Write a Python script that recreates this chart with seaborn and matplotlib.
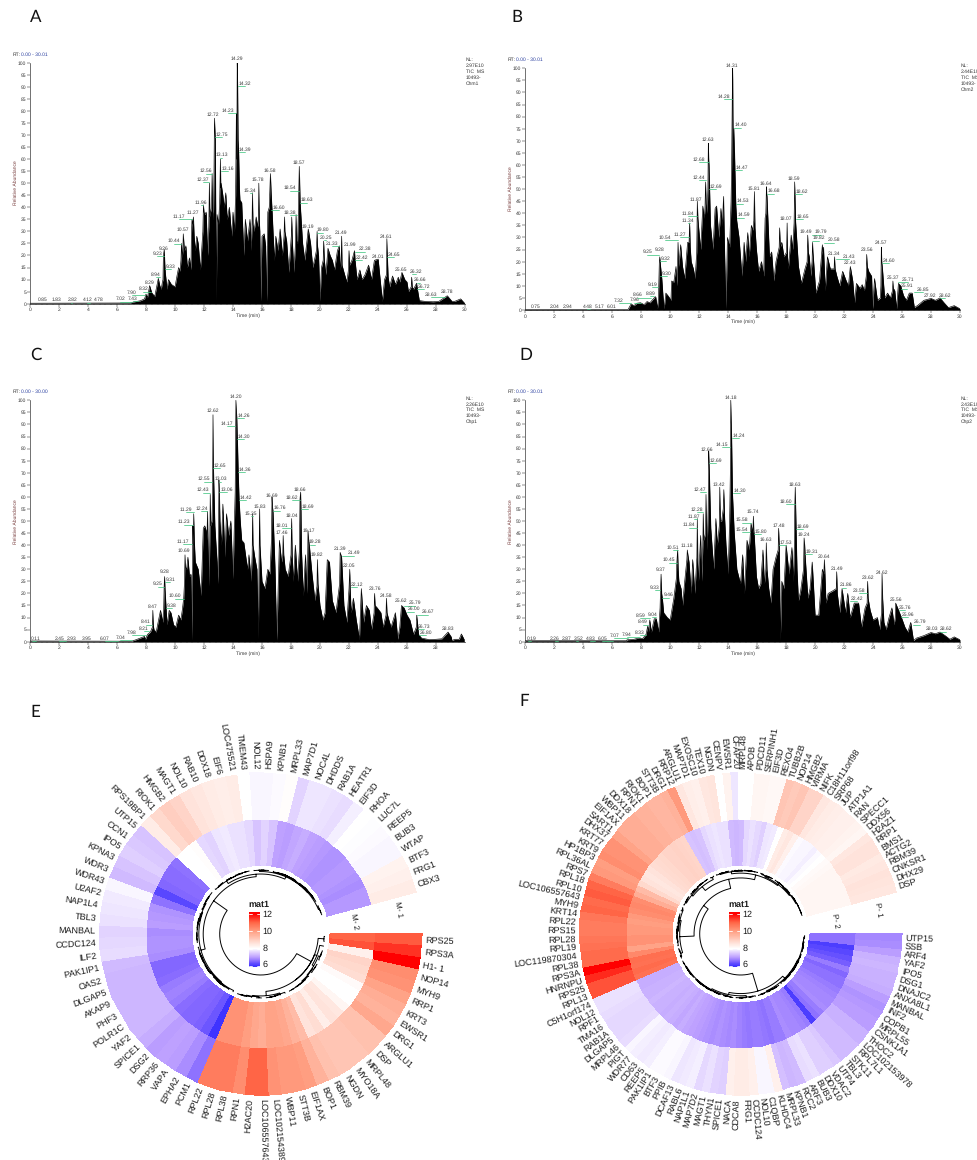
import numpy as np
import pandas as pd
import matplotlib
matplotlib.use("Agg")
import matplotlib.pyplot as plt
import seaborn as sns
from matplotlib.colors import LinearSegmentedColormap
from matplotlib.ticker import MultipleLocator

# chromatogram traces, time in min and relative abundance in %
A_time = [0,6.9,7.2,7.6,7.9,8.0,8.1,8.25,8.4,8.6,8.85,8.95,9.05,9.13,9.2,9.26,9.33,9.45,9.55,9.75,10.0,10.15,10.25,10.35,10.45,10.5,10.57,10.65,10.75,10.85,11.0,11.1,11.17,11.27,11.4,11.5,11.6,11.75,11.96,12.05,12.15,12.25,12.37,12.45,12.56,12.65,12.72,12.78,12.85,12.9,13.0,13.13,13.18,13.3,13.4,13.5,13.6,13.75,13.9,14.0,14.1,14.23,14.29,14.32,14.39,14.48,14.6,14.75,14.85,15.0,15.17,15.25,15.34,15.45,15.6,15.7,15.78,15.85,15.9,16.0,16.15,16.25,16.32,16.4,16.58,16.7,16.85,16.95,17.1,17.25,17.4,17.55,17.7,17.85,18.05,18.2,18.35,18.45,18.54,18.57,18.63,18.8,18.95,19.19,19.35,19.5,19.65,19.8,19.9,20.0,20.1,20.25,20.4,20.55,20.7,20.85,21.0,21.2,21.33,21.4,21.49,21.7,21.85,22.0,22.2,22.38,22.42,22.55,22.75,22.9,23.1,23.35,23.55,23.75,24.01,24.15,24.3,24.45,24.61,24.65,24.8,25.0,25.2,25.4,25.5,25.65,25.85,26.0,26.1,26.32,26.45,26.66,26.72,26.85,27.2,27.8,28.2,28.78,29.1,29.3,29.7,30]
A_abund = [0.2,0.3,0.8,1.2,2,4,2.5,7.5,4.5,3,10.5,7.5,6,9,20,22.5,13,6,10,8,7,12,15,13.5,25,19,29,22,24,15,19,14,35,36,22,28,25,14,41,37,38,20,50,38,54,35,77,68,1,37,33,60,50,45,40,46,35,40,28,38,30,79,100,90,63,43,42,20,35,26,35,22,46,30,36,32,50,30,1,28,29,24,1,38,54,38,18,28,22,31,20,36,26,13,36,13,37,25,47,57,42,25,18,31,25,15,19,30,20,1,15,26,12,23,20,18,14,22,24,14,28,12,9,22,18,22,18,10,14,10,12,16,10,18,18.5,10,1,10,27,19,7,11.5,8,11,9,13,10,9,5,11,6,8.5,6,1.3,1,0.8,1,3.3,1,1,2,0]
A_shoulder_time = [9.17,9.3,10.41,10.54,11.13,11.22,11.32,11.92,12.0,12.33,12.41,12.52,12.6,12.69,13.08,13.16,14.18,14.26,14.35,14.44,15.31,15.38,15.75,15.81,16.5,16.63,17.52,17.58,18.02,18.09,18.3,18.39,18.5,18.6,19.75,19.83,20.22,20.3,21.46,21.52,21.96,22.05,24.58,24.7,26.29,26.36]
A_shoulder_abund = [10,16,18,22,28,33,28,30,38,32,36,40,38,55,42,48,45,60,68,48,32,33,34,35,40,46,28,30,28,26,24,26,36,50,22,24,18,18,18,16,14,16,12,11,7,7]

B_time = [0,7.0,7.1,7.3,7.5,7.7,7.96,8.2,8.4,8.6,8.89,9.0,9.12,9.19,9.25,9.28,9.32,9.42,9.5,9.58,9.7,9.9,10.05,10.1,10.25,10.4,10.45,10.54,10.6,10.72,10.85,11.0,11.2,11.34,11.45,11.6,11.72,11.87,11.95,12.1,12.25,12.35,12.44,12.55,12.63,12.68,12.78,12.95,13.1,13.2,13.35,13.5,13.6,13.68,13.75,13.85,13.95,14.1,14.2,14.28,14.31,14.36,14.40,14.47,14.53,14.59,14.75,14.95,15.1,15.2,15.35,15.45,15.6,15.7,15.81,15.95,16.1,16.3,16.45,16.55,16.64,16.68,16.85,17.0,17.15,17.3,17.55,17.7,17.85,18.07,18.15,18.35,18.45,18.59,18.65,18.85,19.05,19.3,19.49,19.6,19.7,19.82,19.9,20.05,20.3,20.5,20.58,20.7,20.85,21.05,21.34,21.5,21.7,21.9,22.15,22.3,22.43,22.6,22.72,22.85,23.1,23.25,23.4,23.56,23.7,23.9,23.97,24.1,24.3,24.5,24.57,24.65,24.8,25.0,25.2,25.37,25.5,25.62,25.75,25.91,26.1,26.3,26.5,26.7,26.85,27.1,27.5,28,28.3,28.62,28.9,29.2,29.6,30]
B_abund = [0.2,0.2,0.3,2.5,1.8,2.8,3,2.2,3.5,3,5,5.5,0.5,5,20,22,19,13,6,0.5,7,5.5,4,12,11.5,18,10,28,18,27,18,13,28,36,20,17,13,45,35,25,43,38,53,40,69,60,35,25,42,43,30,42,35,47,25,0.5,30,26,45,87,100,62,75,57,43,37,30,14,28,20,32,22,35,33,49,25,16,20,14,38,51,47,22,24,12,20,34,28,22,36,17,31,25,53,37,18,11,17,31,22,14,28,20,7,12,27,26,8,22,17,22,14,10,16,12,10,18,12,3,11,9,10.5,8,23,16,14,0.5,13,4,5,26,17,5,7,5,12,8,0.5,11,10,6,4,7,7,1,2,4,4.8,4,5,3,1,1.8,0.5]
B_shoulder_time = [9.22,10.5,10.58,11.3,11.38,11.83,11.91,12.4,12.48,12.6,12.66,14.24,14.33,14.44,15.77,15.85,16.6,16.66,17.52,17.6,18.03,18.1,18.55,18.62,19.45,19.53,19.79,19.85,20.54,21.31,21.38,23.53,23.6,24.54,24.6,25.34,25.4]
B_shoulder_abund = [12,16,20,28,26,24,38,42,44,50,62,60,80,65,37,34,40,48,26,26,24,22,36,45,20,24,20,24,24,17,17,14,18,10,20,8,9]

C_time = [0,7.0,7.3,7.6,7.9,7.95,8.1,8.3,8.47,8.55,8.7,9.0,9.15,9.25,9.28,9.31,9.45,9.6,9.72,9.9,10.05,10.25,10.4,10.5,10.6,10.69,10.8,10.89,11.0,11.1,11.17,11.23,11.29,11.4,11.6,11.8,11.95,12.05,12.15,12.24,12.35,12.43,12.55,12.62,12.65,12.75,12.9,12.95,13.03,13.06,13.2,13.3,13.45,13.55,13.7,13.85,14.0,14.10,14.20,14.26,14.30,14.36,14.42,14.6,14.75,15.0,15.1,15.25,15.35,15.5,15.65,15.75,15.83,16.0,16.2,16.4,16.55,16.69,16.76,16.9,17.02,17.2,17.35,17.46,17.6,17.8,18.04,18.15,18.3,18.45,18.62,18.66,18.69,18.85,19.0,19.1,19.17,19.28,19.45,19.65,19.82,20.0,20.2,20.35,20.5,20.65,20.85,21.1,21.39,21.49,21.65,21.85,22.05,22.15,22.3,22.5,22.72,22.85,23.0,23.2,23.4,23.55,23.76,23.95,24.2,24.35,24.58,24.75,24.9,25.2,25.36,25.5,25.62,25.8,26.0,26.2,26.45,26.67,26.8,27.0,27.5,28.0,28.4,28.83,29.05,29.1,29.3,29.6,29.75,29.95]
C_abund = [0.3,0.2,0.8,1.5,2.2,0.8,3,4,13,5,4,13,8,23,27,22,7,13,12,7,6,11,9,13,18,36,30,35,27,28,0.5,48,53,33,30,19,47,48,46,54,23,61,50,94,72,48,33,24,67,62,40,57,35,53,44,50,26,50,100,93,84,70,59,42,41,30,36,25,53,35,30,1,55,25,22,30,28,60,54,30,0.5,42,33,44,30,27,51,25,40,25,59,62,54,19,36,20,46,39,28,17,34,15,9,12,34,33,17,12,37,35,15,8,30,12,18,9,1,22,8,15,13,5,20,14,12,6,18,9,6,12,1,6,15,14,11,9,3,11,3,1.5,0.9,1,1.2,4,2,0.5,1,1,3.2,0.8]
C_shoulder_time = [8.44,8.5,9.22,10.65,10.72,11.26,11.33,12.2,12.28,12.4,12.47,12.59,13.0,13.1,14.15,14.23,14.33,14.5,15.32,15.38,15.8,15.86,16.65,16.72,17.43,17.5,18.0,18.08,18.58,18.72,19.14,19.22,19.79,19.86,21.35,21.44,22.0,22.08,23.73,23.8,24.55,24.62,26.64]
C_shoulder_abund = [6,7,14,24,31,40,42,42,40,42,48,62,45,50,62,96,78,50,36,40,38,40,42,56,36,36,36,36,38,38,30,42,23,24,24,36,22,22,12,15,11,12,6]

D_time = [0,7.0,7.02,7.5,7.8,8.1,8.33,8.45,8.5,8.59,8.7,8.9,9.04,9.2,9.33,9.37,9.46,9.55,9.8,10.0,10.25,10.45,10.51,10.6,10.75,10.85,11.0,11.18,11.3,11.45,11.55,11.7,11.87,11.95,12.1,12.18,12.28,12.47,12.55,12.66,12.69,12.8,13.0,13.15,13.25,13.42,13.55,13.7,13.85,14.0,14.1,14.18,14.24,14.30,14.42,14.6,14.85,15.0,15.12,15.3,15.45,15.58,15.74,15.80,15.95,16.1,16.25,16.4,16.5,16.63,16.8,16.95,17.1,17.3,17.48,17.53,17.6,17.7,17.85,18.0,18.2,18.4,18.5,18.6,18.63,18.69,18.85,19.0,19.24,19.31,19.5,19.65,19.8,20.0,20.25,20.5,20.64,20.75,20.9,21.2,21.49,21.7,21.86,22.1,22.25,22.42,22.7,23.0,23.2,23.45,23.62,23.8,24.0,24.3,24.45,24.62,24.75,24.9,25.1,25.3,25.45,25.56,25.76,25.96,26.2,26.4,26.6,26.79,27.0,27.5,28,28.3,28.62,29,29.3,29.6,30]
D_abund = [0.4,0.4,0.8,1,1.5,1.3,3,6.5,4,9,4,9.5,9.5,4,21,28,18,12,10,9,18,32,38,25,22,15,25,38,33,20,34,20,51,25,44,25,53,61,38,79,73,47,30,51,40,64,50,63,40,28,50,100,84,61,45,30,24,36,20,42,38,49,52,44,27,22,24,38,24,41,22,16,30,35,47,39,0.5,25,22,40,28,39,25,57,64,46,17,21,43,36,18,22,33,11,11,30,34,16,20,21,29,12,22,12,20,10,16,16,6,14,25,13,9,10,5,28,8,5,10,14,7,16,13,10,6,4,8,0.5,1.5,2.5,3.8,3.3,4,2.4,1,2,0.8]
D_shoulder_time = [9.3,9.41,10.42,10.55,11.15,11.22,11.84,11.91,12.25,12.32,12.44,12.5,12.62,13.39,13.46,13.66,13.75,14.15,14.21,14.27,15.7,15.77,16.6,16.68,17.45,18.57,18.66,18.75,19.2,19.28,20.6,20.68,21.46,21.53,23.59,23.66,24.59,24.66,25.53]
D_shoulder_abund = [14,20,26,30,34,36,35,32,40,42,45,50,55,48,50,55,52,70,92,72,45,46,30,30,38,40,55,30,30,40,28,28,22,20,16,18,12,18,10]

# peak annotations: retention time text and where the text sits
A_rt = ["0.85","1.83","2.82","4.12","4.78","7.02","7.43","7.90","8.32","8.29","8.94","9.23","9.26","9.33","10.44","10.57","11.17","11.27","11.96","12.37","12.56","12.72","12.75","13.13","13.16","14.23","14.29","14.32","14.39","15.34","15.78","16.58","16.60","18.54","18.38","18.57","18.63","19.19","19.80","20.25","21.33","21.49","21.99","22.38","22.42","24.01","24.61","24.65","25.65","26.32","26.66","26.72","28.63","28.78"]
A_label_x = [.85,1.84,2.92,3.95,4.73,6.23,7.08,7.01,7.82,8.25,8.67,8.78,9.24,9.72,9.93,10.55,10.28,11.24,11.79,11.93,12.14,12.64,13.22,13.26,13.63,13.66,14.3,14.8,14.85,15.17,15.75,16.57,17.17,17.95,17.95,18.57,19.1,19.17,20.2,20.4,20.8,21.47,22.05,23.1,22.9,24,24.57,25.13,25.6,26.6,26.87,27.17,27.67,28.75]
A_label_y = [1.5,1.5,1.5,1.5,1.5,2,2.2,4.7,6.1,8.7,12,20.8,23,15.3,26,30.7,36.1,37.9,41.9,51.6,55.1,78.4,70.2,61.7,56.2,80.2,101.5,91.3,63.9,46.9,51.6,55.1,40,48,37.7,58.4,43,32.1,30.6,27.6,25.1,29.3,24.6,22.7,19.1,19.4,28,20.4,14.1,13.3,9.8,7,3.7,4.8]

B_rt = ["0.75","2.04","2.94","4.48","5.17","6.01","7.32","7.96","8.66","8.89","9.19","9.25","9.28","9.32","9.30","10.54","11.27","11.34","11.84","11.87","12.44","12.68","12.63","12.69","14.28","14.31","14.40","14.47","14.53","14.59","15.81","16.64","16.68","18.59","18.62","18.65","18.07","19.49","19.79","19.82","20.58","21.34","21.43","22.43","23.56","24.57","24.60","25.37","25.71","25.91","26.85","27.92","28.62"]
B_label_x = [.71,2.02,2.9,4.28,5.15,5.98,6.46,7.52,7.73,8.63,8.76,8.42,9.25,9.71,9.78,9.64,10.67,11.22,11.25,11.8,12.0,12.0,12.63,13.16,13.69,14.29,14.9,14.93,15.02,15.09,15.78,16.63,17.16,18.57,19.1,19.14,18,19.39,20.43,20.29,21.32,21.32,22.31,22.43,23.56,24.54,25.1,25.35,26.41,26.36,27.44,27.9,28.94]
B_label_y = [1.5,1.5,1.5,1.5,1.5,1.5,3.9,4.1,6.2,6.9,10.6,24,24.8,21.4,15.2,30,31.2,37,40,45.8,54.8,62.2,70.6,51.2,88.4,101,76.6,58.9,45.1,39.3,50,52.4,49.2,54.2,48.9,38.8,37.7,32.4,32.3,29.8,29,23.3,22,19.6,25,27.9,20.4,13.3,12.6,9.9,8.4,6.1,6.1]

C_rt = ["0.11","2.45","2.93","3.95","6.07","7.04","7.98","8.21","8.41","8.47","9.25","9.28","9.31","9.38","10.60","10.69","11.17","11.23","11.29","12.24","12.43","12.55","12.62","12.65","13.03","13.06","14.17","14.20","14.26","14.30","14.36","14.42","15.35","15.83","16.69","16.76","18.01","17.46","18.04","18.62","18.66","18.69","19.17","19.28","19.82","21.39","21.49","22.05","22.12","23.76","24.58","25.62","25.79","26.00","26.67","26.73","26.80","28.83"]
C_label_x = [.39,2.02,2.9,3.93,5.15,6.23,7.03,7.86,7.97,8.44,8.83,9.26,9.68,9.79,10,10.6,10.55,10.62,10.78,11.82,11.95,11.98,12.62,13.1,13.17,13.56,13.59,14.2,14.73,14.78,14.85,14.9,15.24,15.82,16.69,17.26,17.4,17.4,18.04,18.04,18.64,19.14,19.24,19.68,19.81,21.36,22.37,22.02,22.57,23.77,24.57,25.61,26.57,26.46,27.45,27.2,27.29,28.8]
C_label_y = [1.4,1.4,1.4,1.4,1.4,1.6,3.7,5.4,8.1,14.5,23.9,29,25.9,14.9,18.9,37.6,41.6,49.6,54.9,55.1,62.9,67.4,95.7,72.9,67.4,63.1,90.3,101.4,93.8,85,71.3,59.8,53,55.9,60.6,55.4,48.2,45.2,52.2,59.6,62.8,55.9,46.1,41.3,36,38.4,36.7,31.3,23.8,21.9,18.9,16.9,16,13.6,12.3,6.3,3.7,5.2]

D_rt = ["0.19","2.26","2.87","3.52","4.83","6.05","7.07","7.94","8.33","8.49","8.59","9.04","9.33","9.37","9.46","10.45","10.51","11.18","11.84","11.87","12.28","12.47","12.66","12.69","13.42","14.15","14.18","14.24","14.30","15.54","15.58","15.74","15.80","16.63","17.48","17.53","18.63","18.60","18.69","19.24","19.31","20.64","21.49","21.86","22.42","23.58","23.62","24.62","25.56","25.76","25.96","26.79","28.03","28.62"]
D_label_x = [.42,2.02,2.85,3.66,4.49,5.32,6.14,7.02,7.89,8.1,7.94,8.76,8.92,9.34,9.89,9.89,10.17,11.18,11.27,11.62,11.85,12.05,12.56,13.18,13.39,13.57,14.17,14.72,14.79,14.98,14.98,15.74,16.26,16.63,17.48,17.99,18.63,17.99,19.16,19.25,19.78,20.61,21.51,22.11,22.89,23.0,23.62,24.62,25.56,26.18,26.43,27.21,28.04,29.03]
D_label_y = [1.4,1.4,1.4,1.4,1.4,1.4,2.6,3,3.7,8.1,10.9,11.3,22.4,30,19.3,33.8,39.1,39.8,48.3,52,54.7,63,79.7,75,65.2,81.6,101.3,85.5,62.6,46.6,50.4,53.7,45.6,42.4,47.9,41.2,64.9,58.2,47.8,44.2,37.4,35.2,30.4,23.5,17.8,21.1,26.4,28.6,17.5,14.3,11.4,8.1,5.4,5.2]

# circular heatmap E, clockwise from the gap
E_genes = ["RPS25","RPS3A","H1- 1","NOP14","MYH9","RRP1","KRT3","EWSR1","DRG1","ARGLU1","DSP","MRPL48","MYO18A","NGDN","RBM39","BOP1","EIF1AX","STT3B","WBP11","LOC102154389","LOC106557643","H2AC20","RPN1","RPL38","RPL28","RPL22","PCM1","EPHA2","VAPA","RRP36","DSG2","SPICE1","YAF2","POLR1C","PHF3","AKAP9","DLGAP5","OAS2","PAK1IP1","ILF2","CCDC124","MANBAL","TBL3","NAP1L4","U2AF2","WDR43","WDR3","KPNA3","IPO5","CCN1","UTP15","RPS19BP1","RIOK1","HMGB2","MAGT1","NOL10","RAB10","DDX18","EIF6","LOC475521","TMEM43","NOL12","HSPA9","KPNB1","MRPL33","MAP7D1","NOC4L","DHDDS","RAB1A","HEATR1","EIF3D","RHOA","LUC7L","REEP5","BUB3","WTAP","BTF3","FRG1","CBX3"]
E_m1 = [11.1,11.5,12,10.3,10.2,9.9,9.7,9.6,9.8,9.3,9.3,9.2,9.2,9.2,9.3,9.6,10,10.1,10.1,10.2,11,11,10.3,10.6,10.6,10.6,6.6,6.85,7,7.05,7,7.15,7.25,7.25,7.25,7.25,7.25,7.25,7.3,7.65,7.6,7.55,7.7,7.75,7.8,7.9,7.3,7.4,7.5,7.45,7.4,8.4,8.8,9,8.9,8.6,8.5,8.4,8.35,8.4,8,7.9,7.9,7.95,8.05,7.55,7.75,7.75,7.7,7.65,7.85,8,7.98,7.95,7.92,7.9,8.25,8.3,8.4]
E_m2 = [11,11.2,8.3,8.9,8.8,8.7,8.1,8,8,8.2,8.5,8.6,8.35,8.7,8.6,9.4,9.6,9.8,9.9,9.9,9.7,9.8,10,10.2,10.2,10.2,6,6.35,6.45,6.5,6.5,6.55,6.7,6.75,6.7,6.55,6.5,6.5,6.85,6.9,6.9,6.85,7,6.95,6.9,6.6,6.2,6.5,6.55,6.55,6.6,8,8,8.05,7.6,7.55,7.75,7.8,7.7,7.7,7.6,7.4,7.55,7.4,7.05,7,7.1,7.15,7.05,7,6.95,6.9,6.9,6.95,6.95,6.9,6.85,6.95,6.95]

# circular heatmap F, clockwise from the gap
F_genes = ["UTP15","SSB","ARF4","YAF2","IPO5","DSG1","DNAJC2","ANXA8L1","MANBAL","INF2","COPB1","MRPL55","CSNK1A1","THOC2","LOC102153978","RPL7L1","STK11","TBL3","UTP4","VDAC2","DDX10","BUB3","ARF3","RCC2","KPNB1","MRPL33","KLHDC4","C1QBP","NOL10","CCDC124","FRG1","CDCA8","NACA","SPICE1","THYN1","MAGT1","MAP7D2","NAP1L1","RABL6","DCAF13","PPIB","BTF3","PAK1IP1","REEP5","CD63","WDR77","PIGT","MRPL46","DLGAP5","RAB1A","TMA16","RPF1","NOL12","C5H1orf174","RPL13","RPS25","HNRNPU","RPS3A","RPL38","LOC119870304","RPL19","RPL28","RPS15","RPL22","KRT14","MYH9","LOC106557643","RPL10","RPL18","RPS7","RPL36AL","HP1BP3","KRT9","KRT77","DHX37","SART1","EIF1AX","WBP11","DDX18","RPN1","RIOK1","BOP1","STT3B","DRG1","RRP12","ARGLU1","MAP7D1","EXOSC10","TEX10","NGDN","CENPV","EWSR1","CFAP20","MRPL48","APOB","PDCD11","SERPINH1","EIF3D","REXO4","TUBB2B","NOP14","HMGB2","VIRMA","NIFK","C18H11orf98","SRP68","JUP","ATP1A1","RAN","SPECC1","DDX56","H2AZ1","RRP1","BMS1","ACTG2","RBM39","CNKSR1","DHX29","DSP"]
F_p1 = [6.8,6.85,7,7.2,7.25,7.2,7.2,7.15,7,6.9,6.95,7,7,7.2,7.2,7.3,7.3,7.3,7.45,7.5,7.5,7.7,7.65,7.3,7.25,7.35,8.3,7.9,7.9,8.3,8.4,8.4,8.3,7.5,7.55,7.7,7.6,7.85,7.8,7.75,7.9,7.95,7.95,7.85,7.8,7.85,7.9,7.65,7.6,7.6,7.6,7.65,7.7,7.7,11.2,11.2,11.6,12,10.9,10.9,10.8,10.7,10.6,10.6,10.7,11,10.9,11.1,11,10.6,10.1,10,10.3,10.2,10.2,9.9,9.7,9.7,9.7,9.6,9.6,9.5,9.5,9.6,10.1,8.5,8.35,8.3,8.5,8.55,8,8.25,7.75,8,8,8.2,8.2,8.15,8.15,9.2,9.1,9.2,8.9,8.9,8.5,8.4,8.35,8.3,8.3,8.25,8.2,8.5,8.6,8.6,8.45,8.5,8.6,8.55,8.5]
F_p2 = [6.6,6.6,6.1,6.2,6.3,6.4,6.7,6.5,6.6,6.6,6.7,6.75,6.8,6.8,6.85,6.7,6.6,6.1,6.7,6.75,6.8,6.8,6.85,6.7,6.7,6.6,6.65,6.7,6.7,6.65,6.7,6.75,6.85,6.8,6.85,6.9,6.85,6.9,6.95,7,7.05,7.1,7.15,7.1,7.15,7.2,7.15,7.2,7.2,7.25,7.2,7.2,7.15,7.15,10.8,10.9,10.8,10.85,10.4,9.9,10.2,10.2,10.1,10.1,10,10.1,10.3,10.4,10.3,9.7,9.4,8.8,8.6,8.5,8.6,8.7,8.75,8.8,8.9,8.9,8.95,8.9,8.85,7.4,7.35,7.4,7.6,7.7,7.75,7.7,7.7,7.3,7.25,7.3,7.6,7.7,7.6,7.5,7.75,7.8,8,8.4,8.5,8.3,7.95,7.9,7.9,7.85,7.95,8,8.1,8.15,8.2,8.2,8.2,8.2,8.2,8.2,8.2]

legend_ticks = [6, 8, 10, 12]

W, H = 978, 1160
GAP_SPAN = 344.7
INNER_R, MID_R, OUTER_R, LEAF_R, ROOT_R = 69, 115, 161, 64, 41
BOX_R = 240

sns.set_theme(style="white")
plt.rcParams["font.family"] = ["Liberation Sans", "DejaVu Sans"]
plt.rcParams["text.hinting"] = "no_hinting"
plt.rcParams["text.hinting_factor"] = 1

heat_cmap = LinearSegmentedColormap.from_list("mat1", [
    (0.0, "#3f33ff"), (1 / 12, "#8468ff"), (2 / 12, "#bb9eff"), (3 / 12, "#dfceff"), (4 / 12, "#ffffff"),
    (6 / 12, "#ffcfc1"), (8 / 12, "#ff9e81"), (10 / 12, "#ff6647"), (1.0, "#ff0000")])

fig = plt.figure(figsize=(W / 100, H / 100), dpi=100)


def put_text(x, y, s, **kw):
    # text placed by pixel position in the figure
    return fig.text(x / W, 1 - y / H, s, **kw)


def add_axes_px(left, top, right, bottom, **kw):
    return fig.add_axes([left / W, 1 - bottom / H, (right - left) / W, (bottom - top) / H], **kw)


def draw_chromatogram(left, top, right, bottom, times, abund, shoulder_t, shoulder_a, rts, label_x, label_y, x_top):
    ax = add_axes_px(left, top, right, bottom)
    ax.patch.set_alpha(0)
    trace = pd.DataFrame({"time": times + shoulder_t, "abund": abund + shoulder_a}).sort_values("time", kind="stable")
    ax.fill_between(trace["time"], trace["abund"], 0, color="black", lw=0)
    sns.lineplot(data=trace, x="time", y="abund", ax=ax, color="black", lw=0.45, sort=False, estimator=None, errorbar=None)
    ax.set_xlim(0, 30)
    ax.set_ylim(0, 100)
    ax.set_xlabel("")
    ax.set_ylabel("")
    ax.set_xticks(np.arange(0, x_top + 1, 2))
    ax.set_yticks(np.arange(0, 101, 5))
    ax.xaxis.set_minor_locator(MultipleLocator(0.4))
    ax.tick_params(axis="both", which="major", labelsize=3.5, length=2, width=0.35, pad=0.8,
                   labelcolor="#333333", bottom=True, left=True, color="#222222")
    ax.tick_params(axis="x", which="minor", length=1, width=0.25, bottom=True, color="#222222")
    for side in ["top", "right"]:
        ax.spines[side].set_visible(False)
    for side in ["left", "bottom"]:
        ax.spines[side].set_linewidth(0.45)
        ax.spines[side].set_color("#222222")

    for rt, x, y in zip(rts, label_x, label_y):
        ax.text(x, y, rt, fontsize=3.5, color="#3a3a3a", ha="center", va="center", clip_on=False, zorder=5)
        if abs(float(rt) - x) > 0.1:
            ax.plot([float(rt), x], [y - 1.1, y - 1.1], color="#45c884", lw=0.55, clip_on=False, zorder=4)
    return ax


def panel_texts(x0, y_rt, x_nl, y_nl, x_lab, y_lab, x_time, y_time, rt_range, nl_value, sample):
    put_text(x0, y_rt, "RT:", fontsize=3.5, color="#333333", va="center")
    put_text(x0 + 8.7, y_rt, rt_range, fontsize=3.5, color="#2a3fa0", va="center")
    for k, line in enumerate(["NL:", nl_value, "TIC  MS", "10493-", sample]):
        put_text(x_nl, y_nl + k * 5.8, line, fontsize=3.5, color="#333333", va="center")
    put_text(x_lab, y_lab, "Relative Abundance", fontsize=3.5, color="#7a4040", rotation=90, ha="center", va="center")
    put_text(x_time, y_time, "Time (min)", fontsize=3.5, color="#333333", ha="center", va="center")


def dendrogram_path(theta, mat):
    # contiguous Ward merging over the ring order, so the branches keep the heatmap order
    nodes = [dict(th=t, h=0.0, n=1, mean=row.astype(float)) for t, row in zip(theta, mat)]
    merges = []
    while len(nodes) > 1:
        dist = [np.sqrt(2 * a["n"] * b["n"] / (a["n"] + b["n"])) * np.linalg.norm(a["mean"] - b["mean"])
                for a, b in zip(nodes[:-1], nodes[1:])]
        i = int(np.argmin(dist))
        a, b = nodes[i], nodes[i + 1]
        h = max(dist[i], a["h"], b["h"])
        merges.append((a["th"], a["h"], b["th"], b["h"], h))
        n = a["n"] + b["n"]
        nodes[i:i + 2] = [dict(th=(a["th"] + b["th"]) / 2, h=h, n=n, mean=(a["mean"] * a["n"] + b["mean"] * b["n"]) / n)]
    top = merges[-1][4]
    to_r = lambda h: LEAF_R - (LEAF_R - ROOT_R) * h / top
    xs, ys = [], []
    for ta, ha, tb, hb, h in merges:
        arc = np.linspace(ta, tb, 40)
        xs += [ta, ta] + list(arc) + [tb, tb, np.nan]
        ys += [to_r(ha), to_r(h)] + [to_r(h)] * len(arc) + [to_r(h), to_r(hb), np.nan]
    return xs, ys


def draw_ring(cx, cy, genes, outer, inner, name1, name2):
    ax = add_axes_px(cx - BOX_R, cy - BOX_R, cx + BOX_R, cy + BOX_R, projection="polar")
    ax.set_theta_zero_location("E")
    ax.set_theta_direction(-1)
    ax.patch.set_alpha(0)
    edges = np.radians(np.linspace(0, GAP_SPAN, len(genes) + 1))
    mids = (edges[:-1] + edges[1:]) / 2
    values = np.array([inner, outer])
    ax.pcolormesh(edges, [INNER_R, MID_R, OUTER_R], values, cmap=heat_cmap, vmin=6, vmax=12,
                  shading="flat", edgecolors="face", linewidth=0.15)
    xs, ys = dendrogram_path(mids, values.T)
    ax.plot(xs, ys, color="black", lw=0.7)
    for th, gene in zip(mids, genes):
        deg = np.degrees(th)
        right = np.cos(th) > 0
        ax.text(th, OUTER_R + 4, gene, fontsize=6.3, color="#1a1a1a", va="center", ha="left" if right else "right",
                rotation=-deg if right else 180 - deg, rotation_mode="anchor", clip_on=False)
    ax.text(np.radians(350), 140, name1, fontsize=5.8, color="#1a1a1a", rotation=-80, ha="center", va="center")
    ax.text(np.radians(352.3), 95, name2, fontsize=5.8, color="#1a1a1a", rotation=-80, ha="center", va="center")
    ax.set_rlim(0, BOX_R)
    ax.axis("off")

    # colour key in the middle of the ring
    levels = np.linspace(12.2, 5.85, 160).reshape(-1, 1)
    cax = add_axes_px(cx - 12, cy - 22, cx - 0.7, cy + 33.3)
    sns.heatmap(levels, cmap=heat_cmap, vmin=6, vmax=12, cbar=False, ax=cax, xticklabels=False, yticklabels=False)
    for tick in legend_ticks:
        pos = (12.2 - tick) / (12.2 - 5.85) * 160
        cax.plot([0, 0.28], [pos, pos], color="white", lw=0.6)
        cax.plot([0.72, 1], [pos, pos], color="white", lw=0.6)
        put_text(cx + 2, cy + 31 - (tick - 6) * 50 / 6, str(tick), fontsize=6.5, color="#1a1a1a", va="center")
    put_text(cx - 1.4, cy - 29, "mat1", fontsize=6.3, fontweight="bold", color="#1a1a1a", ha="center", va="center")


draw_chromatogram(30, 62.7, 465, 303.7, A_time, A_abund, A_shoulder_time, A_shoulder_abund, A_rt, A_label_x, A_label_y, 30)
draw_chromatogram(525.3, 68.3, 960, 310, B_time, B_abund, B_shoulder_time, B_shoulder_abund, B_rt, B_label_x, B_label_y, 30)
draw_chromatogram(30, 400.3, 465, 641.7, C_time, C_abund, C_shoulder_time, C_shoulder_abund, C_rt, C_label_x, C_label_y, 28)
draw_chromatogram(525.3, 400.3, 960, 641.7, D_time, D_abund, D_shoulder_time, D_shoulder_abund, D_rt, D_label_x, D_label_y, 30)

panel_texts(12.3, 54.3, 465.7, 60, 15.3, 183, 247.7, 316, "0.00 - 30.01", "2.97E10", "Chm1")
panel_texts(507.3, 60, 960.7, 66, 510.7, 189, 742.7, 322, "0.00 - 30.01", "2.44E10", "Chm2")
panel_texts(12.3, 392, 465.7, 398.5, 15.3, 521.7, 247.7, 654, "0.00 - 30.00", "2.26E10", "Chp1")
panel_texts(507.3, 392, 960.7, 398.5, 510.7, 521.7, 742.7, 654, "0.00 - 30.01", "2.43E10", "Chp2")

draw_ring(260.7, 934, E_genes, E_m1, E_m2, "M- 1", "M- 2")
draw_ring(740.7, 934, F_genes, F_p1, F_p2, "P- 1", "P- 2")

for letter, x, y in [("A", 36, 17.5), ("B", 517, 17), ("C", 36, 355), ("D", 526, 355), ("E", 35, 712), ("F", 524, 701)]:
    put_text(x, y, letter, fontsize=12.5, family="Lato", color="#111111", ha="center", va="center")

fig.savefig("out.png", dpi=100)
